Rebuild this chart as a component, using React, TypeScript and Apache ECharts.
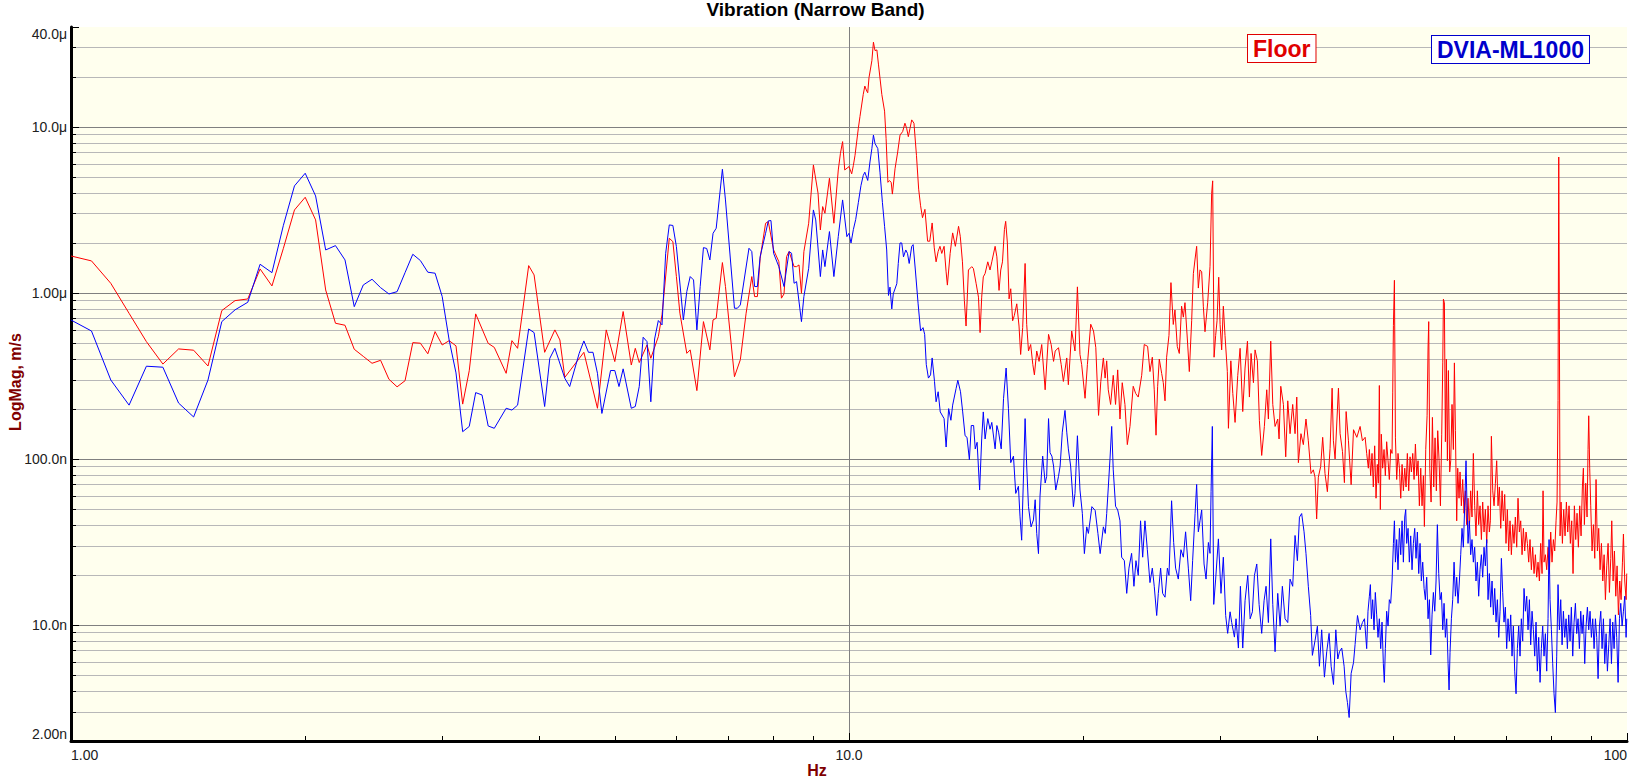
import React, { useEffect, useRef } from "react";
import * as echarts from "echarts";

// ---- axis ticks ----
const xTickValues = [1, 10, 100];
const xTickLabels = ["1.00", "10.0", "100"];
// magnitudes are kept in nm/s
const yTickValues = [2, 10, 100, 1000, 10000, 40000];
const yTickLabels = ["2.00n", "10.0n", "100.0n", "1.00μ", "10.0μ", "40.0μ"];

const legendFloor = "Floor";
const legendDvia = "DVIA-ML1000";

// ---- Floor (red): [Hz, nm/s] ----
const floorBand1: number[][] = [
  [1.0,1670],[1.0625,1560],[1.125,1143],[1.1875,754],[1.25,509],[1.3125,373],[1.375,460],[1.4375,452],[1.5,363],[1.5625,783],[1.625,899],[1.6875,920],[1.75,1395],[1.8125,1102],[1.875,1858],[1.9375,3162],[2.0,3770],[2.0625,2754],[2.125,1042],[2.1875,657],[2.25,639],[2.3125,458],[2.375,415],[2.4375,377],[2.5,393],[2.5625,302],[2.625,272],[2.6875,296],[2.75,502],[2.8125,498],[2.875,430],[2.9375,585],[3.0,486],[3.0625,516],[3.125,480],[3.1875,214],[3.25,340],[3.3125,748],[3.4375,497],[3.5,470],[3.625,328],[3.6875,516],[3.75,464],[3.875,1461],[3.9375,1284],[4.0625,439],[4.1875,599],[4.25,521],[4.3125,310],[4.5625,439],[4.75,202],[4.875,599],[5.0,386],[5.125,773],[5.25,368],[5.3125,464],[5.375,381],[5.5,486],[5.5625,404],[5.6875,546],[5.75,738],[5.875,2135],[5.9375,2038],[6.0,1255],[6.0625,755],[6.1875,433],[6.25,454],[6.375,258],[6.5,672],[6.625,454],[6.6875,688],[6.75,704],[6.875,1524],[6.9375,1093],[7.125,313],[7.25,396],[7.375,755],[7.5,1255],[7.5625,951],[7.625,951],[7.6875,1618],[7.8125,2629],[7.875,2690],[8.0,1816],[8.125,1545],[8.1875,930],[8.25,987],[8.3125,1656],[8.375,1775],[8.5,1441],[8.5625,1441],[8.625,1475],[8.6875,996],[8.75,1775],[8.875,2629],[9.0,5906],[9.125,3985],[9.1875,2397],[9.25,3313],[9.3125,3021],[9.4375,4908],[9.5625,2629],[9.6875,5507],[9.75,6939],[9.8125,8160],[9.875,5507],[10.0,5770]
];
const floorBand2: number[][] = [
  [10.08,5220],[10.13,5865],[10.18,6750],[10.28,9820],[10.33,11560],[10.43,15690],[10.48,17630],[10.54,16440],[10.57,16070],[10.61,19830],[10.70,25060],[10.75,32400],[10.80,28830],[10.86,29100],[10.91,23910],[11.02,15690],[11.11,12450],[11.16,8540],[11.22,4640],[11.27,4750],[11.33,4640],[11.37,3940],[11.46,5600],[11.55,7070],[11.63,8940],[11.72,9370],[11.80,10530],[11.86,9820],[11.92,8740],[11.98,9820],[12.04,11030],[12.12,10530],[12.21,6750],[12.29,4220],[12.36,3350],[12.43,2840],[12.52,3190],[12.62,2050],[12.70,2050],[12.79,2640],[12.87,1870],[12.94,1540],[13.02,1780],[13.09,1910],[13.16,1730],[13.25,1910],[13.33,1340],[13.38,1115],[13.49,1730],[13.59,2300],[13.70,1910],[13.83,2520],[13.90,2195],[13.99,1540],[14.07,900],[14.14,632],[14.24,1375],[14.38,1440],[14.45,1405],[14.57,1137],[14.67,943],[14.74,577],[14.81,943],[14.88,1250],[14.96,1310],[15.08,1540],[15.18,1375],[15.26,1540],[15.41,1910],[15.49,1650],[15.59,1036],[15.67,1375],[15.75,1540],[15.84,2410],[15.90,2700],[15.98,2000],[16.06,921],[16.14,1060],[16.23,680],[16.31,730],[16.43,860],[16.54,632],[16.62,426],[16.72,618],[16.84,1505],[16.92,647],[17.01,447],[17.12,489],[17.23,370],[17.31,321],[17.43,447],[17.55,387],[17.69,489],[17.87,261],[18.05,563],[18.19,489],[18.32,387],[18.41,447],[18.59,468],[18.74,370],[18.86,293],[19.05,406],[19.14,280],[19.33,590],[19.52,447],[19.66,1088],[19.81,426],[19.91,370],[20.11,232],[20.25,370],[20.45,648],[20.62,590],[20.76,468],[20.93,183],[21.07,293],[21.23,406],[21.34,307]
];
const floorBand3: number[][] = [
  [21.44,390],[21.54,261],[21.69,213],[21.86,319],[22.01,213],[22.15,344],[22.30,174],[22.45,288],[22.63,213],[22.79,122],[22.97,157],[23.19,274],[23.36,248],[23.54,236],[23.78,319],[23.96,489],[24.20,477],[24.37,336],[24.54,410],[24.68,261],[24.81,139],[24.93,274],[25.05,400],[25.23,327],[25.35,288],[25.48,224],[25.60,410],[25.78,555],[25.93,1154],[26.11,646],[26.24,790],[26.42,477],[26.58,432],[26.76,832],[26.90,715],[27.03,874],[27.22,528],[27.38,336],[27.57,680],[27.71,1308],[27.85,1601],[27.98,1910],[28.12,1070],[28.26,1377],[28.40,1342],[28.54,832],[28.68,584],[28.91,874],[29.11,1447],[29.25,3968],[29.34,4736],[29.46,410],[29.60,555],[29.72,680],[29.87,1244],[29.99,646],[30.13,454],[30.28,832],[30.43,555],[30.64,336],[30.74,153],[30.96,390],[31.14,248],[31.35,166],[31.60,319],[31.82,464],[32.07,193],[32.29,353],[32.52,512],[32.71,236],[32.87,432],[33.10,288],[33.26,454],[33.49,390],[33.69,170],[33.92,105],[34.19,157],[34.43,261],[34.60,174],[34.84,512],[35.05,213],[35.29,157],[35.57,174],[35.71,132],[35.89,274],[36.17,213],[36.42,103],[36.64,224],[36.89,142],[37.18,213],[37.44,142],[37.63,236],[37.81,95],[38.10,142],[38.37,122],[38.67,174],[38.94,128.7],[39.25,81.7],[39.52,86],[39.72,77.7],[39.91,43.5],[40.11,77.7],[40.39,90],[40.63,135],[40.91,81.7],[41.20,63.5],[41.53,116],[41.78,267],[41.94,128.7],[42.15,100],[42.57,267],[42.78,142],[43.08,111],[43.33,72],[43.55,193],[43.85,128.7],[44.20,70],[44.51,150],[44.95,135],[45.39,157],[45.70,128.7],[46.07,135]
];
const floorBand4: number[][] = [
  [46.28,108],[46.51,88],[46.65,114],[46.83,79.3],[47.02,108],[47.20,67.8],[47.39,120],[47.58,58],[47.76,92.7],[47.91,71.4],[48.05,277],[48.19,49.6],[48.33,141],[48.52,88],[48.72,114],[48.91,79.3],[49.10,127],[49.30,97.6],[49.49,75.2],[49.69,114],[49.89,108],[49.99,250],[50.09,638],[50.24,1192],[50.39,134],[50.58,75.2],[50.78,108],[50.99,88],[51.19,58],[51.39,92.7],[51.59,64.3],[51.80,88],[52.00,67.8],[52.20,108],[52.41,64.3],[52.62,103],[52.83,83.5],[53.04,108],[53.25,75.2],[53.46,123],[53.67,79.3],[53.88,97.6],[54.09,52.2],[54.31,88],[54.52,52.2],[54.74,79.3],[54.90,39.2],[55.12,114],[55.34,182],[55.50,466],[55.61,672],[55.78,88],[56.00,55],[56.22,178],[56.44,67.8],[56.66,134],[56.88,64.3],[57.11,148],[57.34,97.6],[57.57,52.2],[57.79,141],[57.97,379],[58.08,918],[58.25,872],[58.42,127],[58.59,399],[58.77,97.6],[58.94,341],[59.17,83.5],[59.35,97.6],[59.58,213],[59.82,114],[60.00,379],[60.18,148],[60.41,42.4],[60.59,88],[60.83,58],[61.01,83.5],[61.25,52.2],[61.49,75.2],[61.73,47.1],[61.98,64.3],[62.22,40.2],[62.47,58],[62.72,38.2],[62.96,64.3],[63.21,44.7],[63.46,108],[63.71,52.2],[63.96,34.4],[64.22,64.3],[64.47,40.2],[64.73,52.2],[64.99,32.7],[65.24,55],[65.50,36.3],[65.76,49.6],[66.02,31],[66.28,52.2],[66.54,36.3],[66.74,42.4],[66.94,137],[67.21,64.3],[67.47,52.2],[67.74,71.4],[68.00,97.6],[68.27,52.2],[68.54,67.8],[68.82,38.2],[69.09,64.3],[69.36,42.4],[69.63,61.1],[69.90,31],[70.18,49.6],[70.46,27.9],[70.74,42.4],[71.02,26.5],[71.30,40.2],[71.58,31],[71.86,44.7],[72.15,29.4],[72.43,58],[72.72,36.3],[73.01,42.4],[73.30,26.5],[73.59,38.2],[73.88,27.9],[74.17,36.3],[74.47,31],[74.76,23.9],[75.05,32.7],[75.35,21.5],[75.65,29.4],[75.95,20.4],[76.25,26.5],[76.55,19.4],[76.85,23.9],[77.16,18.4],[77.46,31],[77.77,20.4],[78.00,64.3],[78.23,23.9],[78.54,26.5],[78.85,21.5],[79.16,29.4],[79.47,20.4],[79.79,36.3],[80.10,23.9],[80.42,32.7],[80.74,27.9],[81.06,42.4],[81.30,55],[81.54,225],[81.71,6590],[81.87,605],[82.03,34.4],[82.27,55],[82.60,31],[82.92,49.6],[83.25,34.4],[83.58,55],[83.91,36.3],[84.24,52.2],[84.57,31],[84.91,42.4],[85.24,20.4],[85.58,52.2],[85.92,32.7],[86.26,47.1],[86.60,29.4],[86.94,52.2],[87.29,34.4],[87.63,67.8],[87.89,88],[88.15,40.2],[88.50,71.4],[88.85,44.7],[89.11,114],[89.29,182],[89.55,88],[89.82,52.2],[90.18,27.9],[90.54,40.2],[90.90,25.2],[91.25,75.2],[91.61,27.9],[91.97,38.2],[92.34,21.5],[92.71,31],[93.08,18.4],[93.45,26.5],[93.81,14.2],[94.18,22.7],[94.56,31],[94.93,15.7],[95.31,25.2],[95.59,42.4],[95.97,18.4],[96.35,27.9],[96.73,14.9],[97.11,22.7],[97.49,11.5],[97.88,18.4],[98.27,14.2],[98.66,23.9],[98.95,35.3],[99.34,18.4],[99.73,14.2],[99.93,20.4]
];

// ---- DVIA-ML1000 (blue): [Hz, nm/s] ----
const dviaBand1: number[][] = [
  [1.0,687],[1.0625,590],[1.125,299],[1.1875,211],[1.25,362],[1.3125,357],[1.375,217],[1.4375,179],[1.5,299],[1.5625,672],[1.625,791],[1.6875,879],[1.75,1489],[1.8125,1325],[1.875,2557],[1.9375,4416],[2.0,5260],[2.0625,3840],[2.125,1816],[2.1875,1928],[2.25,1581],[2.3125,827],[2.375,1117],[2.4375,1209],[2.5,1076],[2.5625,986],[2.625,1018],[2.6875,1325],[2.75,1710],[2.8125,1567],[2.875,1333],[2.9375,1315],[3.0,951],[3.0625,520],[3.125,330],[3.1875,146],[3.25,157],[3.3125,251],[3.375,243],[3.4375,158],[3.5,153],[3.625,202],[3.6875,197],[3.75,211],[3.875,607],[3.9375,577],[4.0625,207],[4.125,404],[4.1875,464],[4.3125,306],[4.375,273],[4.5,433],[4.5625,514],[4.625,439],[4.6875,439],[4.75,328],[4.8125,188],[4.9375,341],[5.0,341],[5.0625,273],[5.125,349],[5.25,202],[5.3125,207],[5.375,273],[5.4375,541],[5.5,509],[5.5625,221],[5.625,528],[5.6875,682],[5.75,642],[5.8125,1734],[5.875,2569],[5.9375,2550],[6.0,1902],[6.125,688],[6.1875,1019],[6.25,1255],[6.3125,1198],[6.375,599],[6.4375,1093],[6.5,1875],[6.5625,1854],[6.625,1581],[6.6875,2287],[6.75,2453],[6.875,5560],[6.9375,3634],[7.125,809],[7.1875,809],[7.25,847],[7.4375,1859],[7.5,1775],[7.5625,1093],[7.625,1093],[7.6875,1656],[7.8125,2287],[7.875,2716],[7.9375,2730],[8.0,1734],[8.125,1441],[8.25,1093],[8.375,1775],[8.4375,1734],[8.5,1144],[8.5625,1170],[8.6875,672],[8.75,951],[8.875,1408],[9.0,3163],[9.0625,2753],[9.1875,1255],[9.25,1816],[9.3125,1441],[9.4375,2343],[9.5625,1255],[9.6875,2184],[9.8125,3634],[9.9375,2184],[10.0,2287]
];
const dviaBand2: number[][] = [
  [10.06,2000],[10.13,2410],[10.20,2770],[10.28,3500],[10.36,4430],[10.43,5100],[10.48,5340],[10.57,4760],[10.64,6150],[10.70,7410],[10.75,8930],[10.80,7950],[10.89,7410],[10.96,5340],[11.04,3500],[11.11,2520],[11.18,1815],[11.24,966],[11.29,1085],[11.35,801],[11.40,988],[11.52,1137],[11.57,1505],[11.63,2000],[11.69,2000],[11.75,1650],[11.83,1815],[11.89,1730],[11.95,1505],[12.04,1910],[12.09,1955],[12.17,1375],[12.27,860],[12.36,590],[12.45,618],[12.51,563],[12.57,370],[12.65,307],[12.73,321],[12.79,406],[12.88,293],[12.94,221],[13.02,254],[13.10,192],[13.25,175],[13.33,118],[13.43,201],[13.52,171],[13.59,211],[13.73,266],[13.80,298],[13.91,254],[14.00,192],[14.10,138],[14.18,135],[14.28,99],[14.36,159],[14.46,159],[14.53,115],[14.61,126],[14.72,65],[14.81,132],[14.88,192],[14.96,132],[15.08,175],[15.18,151],[15.26,166],[15.41,115],[15.49,159],[15.57,145],[15.69,115],[15.80,232],[15.92,353],[16.03,201],[16.14,95],[16.27,104],[16.38,62],[16.51,68.5],[16.59,44.8],[16.67,32.4],[16.75,71.6],[16.84,175],[16.92,90.7],[17.01,51.6],[17.14,39],[17.26,42.9],[17.35,56.8],[17.43,35.6],[17.52,26.9],[17.60,59.7],[17.74,104],[17.87,71.6],[17.95,78.5],[18.05,175],[18.13,109],[18.23,104],[18.32,90.7],[18.44,65],[18.59,78.5],[18.68,90.7],[18.80,145],[18.95,196],[19.05,145],[19.14,115],[19.27,90.7],[19.43,51.6],[19.52,62],[19.66,138],[19.81,65],[19.95,47],[20.07,26.9],[20.21,39],[20.31,35.6],[20.52,51.6],[20.72,49],[20.89,35.6],[21.03,26.9],[21.23,39],[21.35,35.6]
];
const dviaBand3: number[][] = [
  [21.44,46.9],[21.54,66.8],[21.65,100],[21.76,157],[21.86,86],[22.01,51.9],[22.15,49.3],[22.30,42.4],[22.41,25.6],[22.59,24.4],[22.75,15.5],[22.90,22],[23.08,27],[23.24,17.1],[23.38,24.4],[23.54,19.9],[23.70,42.4],[23.85,25.6],[24.01,42.4],[24.18,28.4],[24.37,18],[24.54,22],[24.68,17.1],[24.86,11.4],[24.98,15.5],[25.15,22],[25.30,15.5],[25.48,14.7],[25.66,22],[25.78,19.9],[25.98,56],[26.14,31.4],[26.29,22],[26.50,18.9],[26.71,28.4],[26.90,25.6],[27.08,36.4],[27.30,22],[27.49,14],[27.65,24.4],[27.85,46.9],[27.98,70.2],[28.12,36.4],[28.26,42.4],[28.40,49.3],[28.60,23.3],[28.77,18.9],[28.97,31.4],[29.11,27],[29.20,63.5],[29.31,157],[29.43,13.3],[29.60,18.9],[29.84,33],[30.07,15.5],[30.28,25.6],[30.49,11.4],[30.67,8.9],[30.89,12],[31.04,10.34],[31.29,8.45],[31.44,10.9],[31.66,7.26],[31.85,17.1],[32.07,7.26],[32.29,14],[32.55,19.9],[32.78,10.9],[33.00,12],[33.20,19.9],[33.43,23.3],[33.66,13.3],[33.92,8.9],[34.16,14],[34.36,17.1],[34.60,10.34],[34.84,33],[35.05,13.3],[35.29,6.9],[35.57,15.5],[35.82,9.83],[36.06,17.1],[36.35,10.9],[36.64,10.34],[36.89,18.9],[37.18,17.1],[37.44,34.6],[37.70,24.4],[37.93,44.6],[38.18,46.9],[38.45,36.4],[38.67,27],[38.94,17.1],[39.21,11.4],[39.41,6.56],[39.72,8.04],[40.00,9.83],[40.24,5.64],[40.51,9.35],[40.84,4.85],[41.12,6.9],[41.41,8.9],[41.66,5.64],[41.95,4.38],[42.24,9.35],[42.49,6.24],[42.70,6.9],[42.99,7.26],[43.29,5.64],[43.51,3.97],[43.72,3.41],[43.94,2.77],[44.20,5.1],[44.51,5.93],[44.72,7.63],[45.04,11.4],[45.39,9.35],[45.70,10.34],[45.98,10.9]
];
const dviaBand4: number[][] = [
  [46.28,7.2],[46.46,12.1],[46.65,14.9],[46.79,17.5],[46.93,10.9],[47.11,14.2],[47.30,9.35],[47.48,15.7],[47.67,11.5],[47.86,8.42],[48.05,10.9],[48.24,7.2],[48.43,10.4],[48.62,5.85],[48.76,4.51],[48.91,7.2],[49.10,12.1],[49.30,9.85],[49.49,14.2],[49.69,13.5],[49.89,18.4],[50.09,31],[50.24,42.4],[50.39,23.9],[50.58,32.7],[50.78,21.5],[50.99,38.2],[51.19,26.5],[51.39,42.4],[51.59,23.9],[51.80,44.7],[51.95,49.6],[52.10,31],[52.31,38.2],[52.51,23.9],[52.72,34.4],[52.93,21.5],[53.14,31],[53.35,38.2],[53.56,25.2],[53.77,36.3],[53.99,20.4],[54.20,31],[54.41,18.4],[54.63,23.9],[54.85,16.6],[55.06,14.2],[55.28,19.4],[55.50,10.9],[55.72,14.2],[55.94,6.6],[56.16,11.5],[56.38,15.7],[56.61,12.1],[56.83,18.4],[57.05,40.2],[57.28,20.4],[57.51,14.2],[57.74,15.7],[57.97,9.35],[58.19,13.5],[58.42,8.42],[58.65,10.9],[58.89,5.85],[59.06,4.06],[59.23,6.84],[59.47,10.9],[59.70,14.2],[59.94,23.9],[60.18,14.9],[60.41,19.4],[60.65,13.5],[60.89,18.4],[61.13,26.5],[61.37,38.2],[61.61,29.4],[61.86,52.2],[62.10,97.6],[62.28,52.2],[62.47,31],[62.72,42.4],[62.96,26.5],[63.21,32.7],[63.46,23.9],[63.71,29.4],[63.96,18.4],[64.22,23.9],[64.47,14.9],[64.73,21.5],[64.99,26.5],[65.24,19.4],[65.50,29.4],[65.76,22.7],[66.02,32.7],[66.28,14.2],[66.54,20.4],[66.80,12.8],[67.07,18.4],[67.34,11.5],[67.60,16.6],[67.87,10.4],[68.14,14.2],[68.41,8.42],[68.68,12.1],[68.95,25.2],[69.22,15.7],[69.49,10.4],[69.77,12.8],[70.04,7.2],[70.32,10.9],[70.60,7.99],[70.88,11.5],[71.16,6.49],[71.44,9.85],[71.72,5.27],[72.01,3.85],[72.29,7.2],[72.58,9.85],[72.86,6.49],[73.15,10.9],[73.44,7.99],[73.73,16.6],[74.03,12.1],[74.32,14.9],[74.61,9.35],[74.91,14.2],[75.20,7.59],[75.50,12.1],[75.80,9.35],[76.10,6.49],[76.40,10.4],[76.70,5.27],[77.00,8.42],[77.31,4.51],[77.61,7.2],[77.92,9.85],[78.23,6.49],[78.54,8.87],[78.85,5.27],[79.16,10.9],[79.40,32.7],[79.63,14.2],[79.95,9.35],[80.26,5.85],[80.58,3.85],[80.90,2.97],[81.22,6.49],[81.54,17.5],[81.87,9.35],[82.19,14.2],[82.52,7.59],[82.84,12.1],[83.17,8.42],[83.50,10.9],[83.83,7.2],[84.16,11.5],[84.49,7.99],[84.82,12.8],[85.16,6.49],[85.50,10.4],[85.84,13.5],[86.17,8.87],[86.52,10.9],[86.86,7.2],[87.20,12.1],[87.55,8.87],[87.89,11.5],[88.24,5.85],[88.59,9.85],[88.94,12.8],[89.29,9.35],[89.64,12.1],[90.00,8.42],[90.36,10.9],[90.72,7.2],[91.08,10.9],[91.43,8.42],[91.80,4.75],[92.16,9.85],[92.53,12.1],[92.89,7.2],[93.26,10.9],[93.63,5.85],[94.00,8.87],[94.37,5.27],[94.75,7.59],[95.12,10.9],[95.50,5.85],[95.87,10.4],[96.25,7.2],[96.63,11.5],[97.01,8.42],[97.40,4.51],[97.79,10.9],[98.17,13.5],[98.56,9.85],[98.95,12.1],[99.34,14.9],[99.73,8.42],[99.93,10.9]
];

const FONT = '"Liberation Sans", Arial, Helvetica, sans-serif';

function labelFor(values: number[], labels: string[], v: number): string {
  let best = -1;
  let bd = Infinity;
  values.forEach((t, i) => {
    const d = Math.abs(Math.log10(v) - Math.log10(t));
    if (d < bd) { bd = d; best = i; }
  });
  return bd < 0.02 ? labels[best] : "";
}

export default function App() {
  const ref = useRef<HTMLDivElement>(null);

  useEffect(() => {
    if (!ref.current) return;
    const chart = echarts.init(ref.current, undefined, { renderer: "svg" });
    const floorData = [...floorBand1, ...floorBand2, ...floorBand3, ...floorBand4];
    const dviaData = [...dviaBand1, ...dviaBand2, ...dviaBand3, ...dviaBand4];

    const option: any = {
      animation: false,
      backgroundColor: "#ffffff",
      textStyle: { fontFamily: FONT },
      title: {
        text: "Vibration (Narrow Band)",
        left: "center",
        top: 0,
        padding: 0,
        textStyle: { fontFamily: FONT, fontSize: 19, fontWeight: "bold", color: "#000000", lineHeight: 19 },
      },
      grid: {
        left: 71, right: 4, top: 27, bottom: 39,
        containLabel: false,
        outerBoundsMode: "none",
        show: true, backgroundColor: "#FFFFEE", borderWidth: 0,
      },
      xAxis: {
        type: "log",
        logBase: 10,
        min: 1,
        max: 100,
        axisLine: { show: true, onZero: false, lineStyle: { color: "#000000", width: 3 } },
        axisTick: { show: true, inside: true, length: 8, lineStyle: { color: "#000000", width: 1 } },
        minorTick: { show: true, splitNumber: 9, length: 5, lineStyle: { color: "#000000", width: 1 } },
        axisLabel: {
          formatter: (v: number) => labelFor(xTickValues, xTickLabels, v),
          fontFamily: FONT, fontSize: 14, color: "#202020", margin: 7,
          showMinLabel: true, showMaxLabel: true, hideOverlap: false,
          alignMinLabel: "left", alignMaxLabel: "right",
        },
        splitLine: { show: true, showMinLine: false, showMaxLine: false, lineStyle: { color: "#808080", width: 1 } },
        minorSplitLine: { show: false },
      },
      yAxis: {
        type: "log",
        logBase: 10,
        min: 2,
        max: 40000,
        axisLine: { show: true, onZero: false, lineStyle: { color: "#000000", width: 3 } },
        axisTick: { show: true, inside: true, length: 8, lineStyle: { color: "#000000", width: 1 } },
        minorTick: { show: true, splitNumber: 9, length: 5, lineStyle: { color: "#000000", width: 1 } },
        axisLabel: {
          formatter: (v: number) => labelFor(yTickValues, yTickLabels, v),
          fontFamily: FONT, fontSize: 14, color: "#202020", margin: 4,
          showMinLabel: true, showMaxLabel: true, hideOverlap: false,
          verticalAlignMinLabel: "bottom", verticalAlignMaxLabel: "top",
        },
        splitLine: { show: true, showMinLine: false, showMaxLine: false, lineStyle: { color: "#808080", width: 1 } },
        minorSplitLine: { show: true, lineStyle: { color: "#B8B8B8", width: 1 } },
      },
      series: [
        {
          name: legendFloor,
          type: "line",
          data: floorData,
          showSymbol: false,
          symbol: "none",
          lineStyle: { color: "#FF0000", width: 1 },
          itemStyle: { color: "#FF0000" },
          z: 3,
        },
        {
          name: legendDvia,
          type: "line",
          data: dviaData,
          showSymbol: false,
          symbol: "none",
          lineStyle: { color: "#0000FF", width: 1 },
          itemStyle: { color: "#0000FF" },
          z: 4,
        },
      ],
      graphic: [
        {
          type: "text",
          left: 1247,
          top: 34,
          z: 100,
          style: {
            text: legendFloor,
            fill: "#E00000",
            font: `bold 23px ${FONT}`,
            backgroundColor: "#FFFFFF",
            borderColor: "#E00000",
            borderWidth: 1,
            padding: [2, 5, 2, 5],
          },
        },
        {
          type: "text",
          left: 1431,
          top: 35,
          z: 100,
          style: {
            text: legendDvia,
            fill: "#0000CC",
            font: `bold 23px ${FONT}`,
            backgroundColor: "#FFFFFF",
            borderColor: "#0000CC",
            borderWidth: 1,
            padding: [2, 5, 2, 5],
          },
        },
        {
          // x-axis title
          type: "text",
          x: 817,
          y: 770,
          z: 100,
          style: {
            text: "Hz",
            fill: "#800000",
            font: `bold 16px ${FONT}`,
            align: "center",
            verticalAlign: "middle",
          },
        },
        {
          // y-axis title, rotated
          type: "text",
          x: 15,
          y: 382,
          rotation: Math.PI / 2,
          z: 100,
          style: {
            text: "LogMag, m/s",
            fill: "#800000",
            font: `bold 16px ${FONT}`,
            align: "center",
            verticalAlign: "middle",
          },
        },
      ],
    };
    chart.setOption(option);
    return () => chart.dispose();
  }, []);

  return (
    <div
      ref={ref}
      style={{ position: "fixed", left: 0, top: 0, width: "100vw", height: "100vh" }}
    />
  );
}
